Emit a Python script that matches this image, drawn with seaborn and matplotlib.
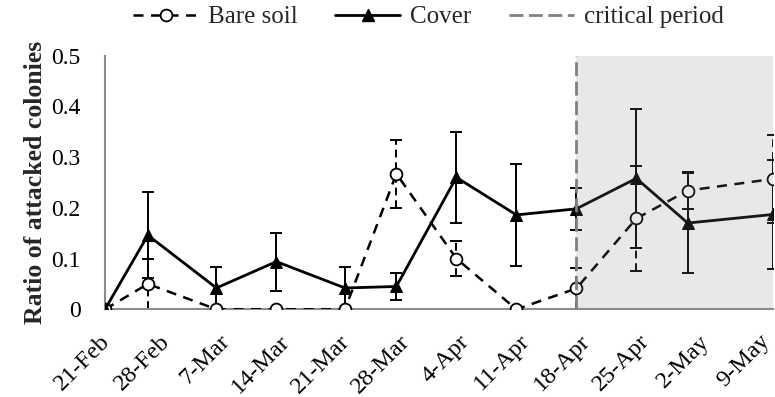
import matplotlib
matplotlib.use("Agg")
import matplotlib.pyplot as plt
import matplotlib.transforms as mtransforms
from matplotlib.lines import Line2D
import seaborn as sns
import pandas as pd

# ---- data ----
dates = ["2013-02-21", "2013-02-26", "2013-03-06", "2013-03-13", "2013-03-21", "2013-03-27",
         "2013-04-03", "2013-04-10", "2013-04-17", "2013-04-24", "2013-04-30", "2013-05-10"]
bare_soil = [0, 0.05, 0, 0, 0, 0.267, 0.10, 0, 0.041, 0.179, 0.234, 0.257]
bare_err = [0, 0.05, 0, 0, 0, 0.067, 0.035, 0, 0.041, 0.103, 0.037, 0.086]
cover = [0, 0.146, 0.042, 0.094, 0.042, 0.045, 0.260, 0.186, 0.198, 0.258, 0.170, 0.187]
cover_err = [0, 0.085, 0.042, 0.057, 0.042, 0.027, 0.090, 0.100, 0.041, 0.137, 0.099, 0.107]
critical_start = "2013-04-17"
tick_dates = ["2013-02-21", "2013-02-28", "2013-03-07", "2013-03-14", "2013-03-21", "2013-03-28",
              "2013-04-04", "2013-04-11", "2013-04-18", "2013-04-25", "2013-05-02", "2013-05-09"]
tick_labels = ["21-Feb", "28-Feb", "7-Mar", "14-Mar", "21-Mar", "28-Mar",
               "4-Apr", "11-Apr", "18-Apr", "25-Apr", "2-May", "9-May"]
y_ticks = [0, 0.1, 0.2, 0.3, 0.4, 0.5]
y_tick_labels = ["0", "0.1", "0.2", "0.3", "0.4", "0.5"]

df = pd.DataFrame({"date": pd.to_datetime(dates), "bare": bare_soil, "bare_err": bare_err,
                   "cover": cover, "cover_err": cover_err})

sns.set_theme(style="white")
plt.rcParams["font.family"] = ["Liberation Serif", "DejaVu Serif"]

fig = plt.figure(figsize=(7.75, 3.97), dpi=100)
ax = fig.add_axes([0.1355, 0.2209, 0.8625, 0.6391])

spine_col = "#8c8c8c"

# error bars
eb1 = ax.errorbar(df["date"], df["bare"], yerr=df["bare_err"], fmt="none", ecolor="black",
                  elinewidth=1.4, capsize=4.5, capthick=1.4, zorder=2)
for c in eb1[2]:
    c.set_linestyle((0, (4, 2.5)))
eb2 = ax.errorbar(df["date"], df["cover"], yerr=df["cover_err"], fmt="none", ecolor="black",
                  elinewidth=1.4, capsize=4.5, capthick=1.4, zorder=2)

# lines
sns.lineplot(data=df, x="date", y="bare", ax=ax, color="black", linewidth=1.8,
             linestyle=(0, (4, 3)), marker="o", markersize=8.5, markerfacecolor="white",
             markeredgecolor="black", markeredgewidth=1.3, zorder=3)
sns.lineplot(data=df, x="date", y="cover", ax=ax, color="black", linewidth=2.0,
             marker="^", markersize=9, markerfacecolor="black", markeredgecolor="black", zorder=3)

x0 = pd.to_datetime(dates[0])
x1 = pd.to_datetime(dates[-1])
cs = pd.to_datetime(critical_start)
ax.axvspan(cs, x1, color="#808080", alpha=0.18, lw=0, zorder=5)
ax.axvline(cs, color="#808080", linewidth=2.0, linestyle=(0, (5, 2)), zorder=6)

ax.set_xlim(x0, x1)
ax.set_ylim(0, 0.5)
ax.set_yticks(y_ticks)
ax.set_yticklabels(y_tick_labels)
ax.set_xticks(pd.to_datetime(tick_dates))
ax.set_xticklabels(tick_labels, rotation=45, ha="right", va="top", rotation_mode="anchor")
ax.tick_params(axis="y", labelsize=17, colors="black", direction="out",
               length=6, width=1.3, color=spine_col, pad=11.5)
ax.tick_params(axis="x", labelsize=17.5, colors="black", direction="out",
               length=4.5, width=1.3, color=spine_col, pad=11)
shift = mtransforms.ScaledTranslation(-6 / 100, 0, fig.dpi_scale_trans)
for lab in ax.get_xticklabels():
    lab.set_transform(lab.get_transform() + shift)

for s in ["top", "right"]:
    ax.spines[s].set_visible(False)
for s in ["left", "bottom"]:
    ax.spines[s].set_color(spine_col)
    ax.spines[s].set_linewidth(1.5)
ax.grid(False)

ax.set_xlabel("")
ax.set_ylabel("Ratio of attacked colonies", fontsize=18.5, fontweight="bold", labelpad=3)

handles = [
    Line2D([], [], color="black", linewidth=1.8, linestyle=(0, (4, 3)), marker="o", markersize=8.5,
           markerfacecolor="white", markeredgecolor="black", markeredgewidth=1.3),
    Line2D([], [], color="black", linewidth=2.0, marker="^", markersize=9),
    Line2D([], [], color="#808080", linewidth=2.0, linestyle=(0, (5, 2))),
]
fig.legend(handles, ["Bare soil", "Cover", "critical period"], loc="center",
           bbox_to_anchor=(0.553, 0.957), ncol=3, frameon=False, fontsize=18,
           handlelength=2.6, handletextpad=0.4, columnspacing=1.5)

fig.savefig("out.png", dpi=100)
